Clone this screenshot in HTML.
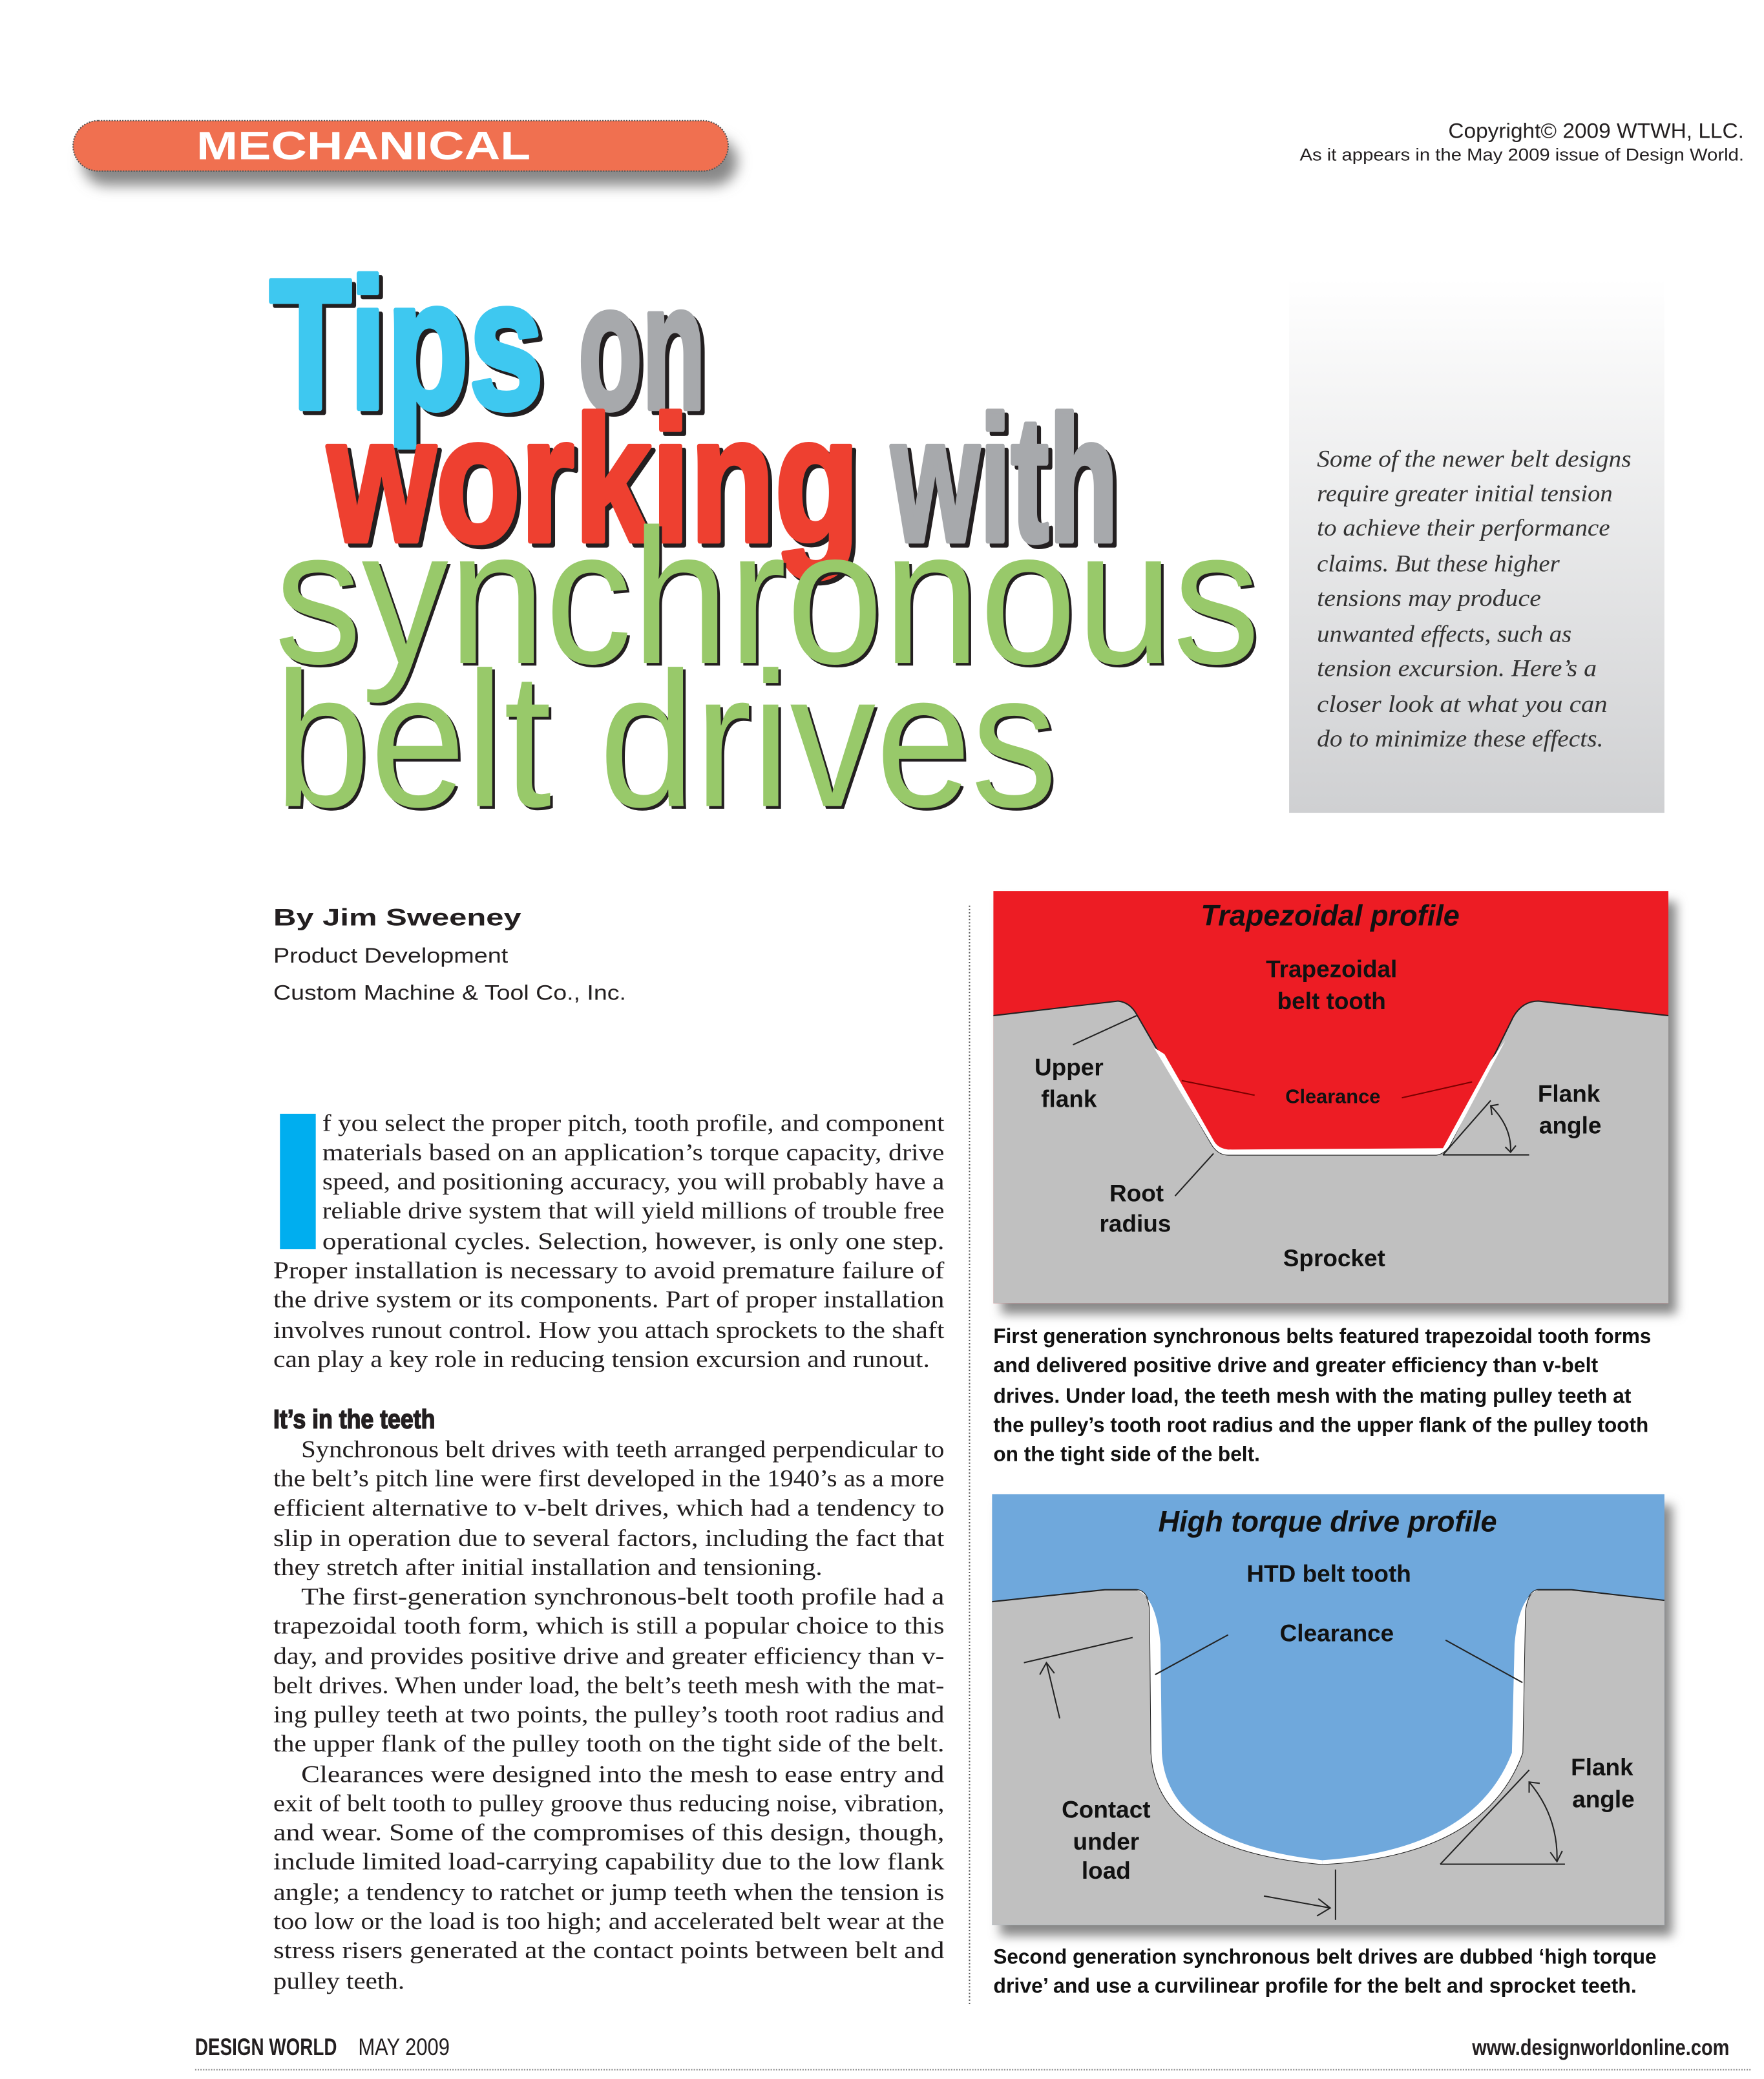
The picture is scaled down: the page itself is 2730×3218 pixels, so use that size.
<!DOCTYPE html>
<html><head><meta charset="utf-8"><style>
html,body{margin:0;padding:0;background:#fff;}
svg{display:block;}
.b{font-family:"Liberation Serif",serif;font-size:18px;fill:#231f20;}
.l{font-family:"Liberation Sans",sans-serif;font-weight:bold;font-size:18px;fill:#111;}
.c{font-family:"Liberation Sans",sans-serif;font-weight:bold;font-size:16px;fill:#111;}
.it{font-family:"Liberation Serif",serif;font-style:italic;font-size:18px;fill:#333;}
</style></head><body>
<svg width="2730" height="3218" viewBox="0 0 1330 1568" xmlns="http://www.w3.org/2000/svg">
<defs>
<linearGradient id="gb" x1="0" y1="0" x2="0" y2="1"><stop offset="0" stop-color="#ffffff"/><stop offset="1" stop-color="#cfd0d2"/></linearGradient>
<filter id="sh" x="-10%" y="-30%" width="120%" height="200%"><feGaussianBlur stdDeviation="5"/></filter>
<filter id="sh2" x="-5%" y="-5%" width="115%" height="115%"><feGaussianBlur stdDeviation="4"/></filter>
</defs>
<rect width="1330" height="1568" fill="#fff"/>

<!-- pill -->
<rect x="62" y="104" width="494" height="36" rx="18" fill="#888" filter="url(#sh)"/>
<rect x="55" y="91" width="494" height="38" rx="19" fill="#f07050" stroke="#555" stroke-width="1" stroke-dasharray="1 1"/>
<text x="148" y="120" font-family="Liberation Sans,sans-serif" font-weight="bold" font-size="30" fill="#fff" textLength="252" lengthAdjust="spacingAndGlyphs">MECHANICAL</text>

<text x="1315" y="104" text-anchor="end" font-family="Liberation Sans,sans-serif" font-size="16" fill="#231f20" textLength="223" lengthAdjust="spacingAndGlyphs">Copyright© 2009 WTWH, LLC.</text>
<text x="1315" y="121" text-anchor="end" font-family="Liberation Sans,sans-serif" font-size="13" fill="#231f20" textLength="335" lengthAdjust="spacingAndGlyphs">As it appears in the May 2009 issue of Design World.</text>

<!-- grey box -->
<rect x="972" y="210" width="283" height="403" fill="url(#gb)"/>
<g class="it">
<text x="993" y="352" textLength="237" lengthAdjust="spacingAndGlyphs">Some of the newer belt designs</text>
<text x="993" y="378" textLength="223" lengthAdjust="spacingAndGlyphs">require greater initial tension</text>
<text x="993" y="404" textLength="221" lengthAdjust="spacingAndGlyphs">to achieve their performance</text>
<text x="993" y="431" textLength="183" lengthAdjust="spacingAndGlyphs">claims. But these higher</text>
<text x="993" y="457" textLength="169" lengthAdjust="spacingAndGlyphs">tensions may produce</text>
<text x="993" y="484" textLength="192" lengthAdjust="spacingAndGlyphs">unwanted effects, such as</text>
<text x="993" y="510" textLength="211" lengthAdjust="spacingAndGlyphs">tension excursion.  Here’s a</text>
<text x="993" y="537" textLength="219" lengthAdjust="spacingAndGlyphs">closer look at what you can</text>
<text x="993" y="563" textLength="216" lengthAdjust="spacingAndGlyphs">do to minimize these effects.</text>
</g>

<!-- title -->
<g font-family="Liberation Sans,sans-serif" font-weight="bold" stroke-width="4" stroke-linejoin="round">
<text x="206" y="311" font-size="140" fill="#231f20" stroke="#231f20" textLength="207" lengthAdjust="spacingAndGlyphs">Tips</text>
<text x="203" y="308" font-size="140" fill="#3ec8f0" stroke="#3ec8f0" textLength="207" lengthAdjust="spacingAndGlyphs">Tips</text>
<text x="439" y="311" font-size="135" fill="#231f20" stroke="#231f20" textLength="96" lengthAdjust="spacingAndGlyphs">on</text>
<text x="436" y="308" font-size="135" fill="#a7a9ac" stroke="#a7a9ac" textLength="96" lengthAdjust="spacingAndGlyphs">on</text>
<text x="250" y="411" font-size="135" fill="#231f20" stroke="#231f20" textLength="401" lengthAdjust="spacingAndGlyphs">working</text>
<text x="247" y="408" font-size="135" fill="#ee4030" stroke="#ee4030" textLength="401" lengthAdjust="spacingAndGlyphs">working</text>
<text x="675" y="411" font-size="135" fill="#231f20" stroke="#231f20" textLength="171" lengthAdjust="spacingAndGlyphs">with</text>
<text x="672" y="408" font-size="135" fill="#a7a9ac" stroke="#a7a9ac" textLength="171" lengthAdjust="spacingAndGlyphs">with</text>
</g>
<g font-family="Liberation Sans,sans-serif" font-size="145">
<text x="209" y="502" fill="#231f20" textLength="743" lengthAdjust="spacingAndGlyphs">synchronous</text>
<text x="207" y="500" fill="#98c96a" textLength="743" lengthAdjust="spacingAndGlyphs">synchronous</text>
<text x="209" y="610" fill="#231f20" textLength="590" lengthAdjust="spacingAndGlyphs">belt drives</text>
<text x="207" y="608" fill="#98c96a" textLength="590" lengthAdjust="spacingAndGlyphs">belt drives</text>
</g>

<!-- byline -->
<text x="206" y="698" font-family="Liberation Sans,sans-serif" font-weight="bold" font-size="18" fill="#231f20" textLength="187" lengthAdjust="spacingAndGlyphs">By Jim Sweeney</text>
<text x="206" y="726" font-family="Liberation Sans,sans-serif" font-size="16" fill="#231f20" textLength="177" lengthAdjust="spacingAndGlyphs">Product Development</text>
<text x="206" y="754" font-family="Liberation Sans,sans-serif" font-size="16" fill="#231f20" textLength="266" lengthAdjust="spacingAndGlyphs">Custom Machine &amp; Tool Co., Inc.</text>

<line x1="731" y1="683" x2="731" y2="1512" stroke="#555" stroke-width="1" stroke-dasharray="1 1.5"/>

<!-- body -->
<rect x="211" y="840" width="27" height="102" fill="#00aeef"/>
<g class="b">
<text x="243" y="853" textLength="469" lengthAdjust="spacingAndGlyphs">f you select the proper pitch, tooth profile, and component</text>
<text x="243" y="875" textLength="469" lengthAdjust="spacingAndGlyphs">materials based on an application’s torque capacity, drive</text>
<text x="243" y="897" textLength="469" lengthAdjust="spacingAndGlyphs">speed, and positioning accuracy, you will probably have a</text>
<text x="243" y="919" textLength="469" lengthAdjust="spacingAndGlyphs">reliable drive system that will yield millions of trouble free</text>
<text x="243" y="942" textLength="469" lengthAdjust="spacingAndGlyphs">operational cycles.  Selection, however, is only one step.</text>
<text x="206" y="964" textLength="506" lengthAdjust="spacingAndGlyphs">Proper installation is necessary to avoid premature failure of</text>
<text x="206" y="986" textLength="506" lengthAdjust="spacingAndGlyphs">the drive system or its components. Part of proper installation</text>
<text x="206" y="1009" textLength="506" lengthAdjust="spacingAndGlyphs">involves runout control. How you attach sprockets to the shaft</text>
<text x="206" y="1031" textLength="495" lengthAdjust="spacingAndGlyphs">can play a key role in reducing tension excursion and runout.</text>

<text x="227" y="1099" textLength="485" lengthAdjust="spacingAndGlyphs">Synchronous belt drives with teeth arranged perpendicular to</text>
<text x="206" y="1121" textLength="506" lengthAdjust="spacingAndGlyphs">the belt’s pitch line were first developed in the 1940’s as a more</text>
<text x="206" y="1143" textLength="506" lengthAdjust="spacingAndGlyphs">efficient alternative to v-belt drives, which had a tendency to</text>
<text x="206" y="1166" textLength="506" lengthAdjust="spacingAndGlyphs">slip in operation due to several factors, including the fact that</text>
<text x="206" y="1188" textLength="414" lengthAdjust="spacingAndGlyphs">they stretch after initial installation and tensioning.</text>
<text x="227" y="1210" textLength="485" lengthAdjust="spacingAndGlyphs">The first-generation synchronous-belt tooth profile had a</text>
<text x="206" y="1232" textLength="506" lengthAdjust="spacingAndGlyphs">trapezoidal tooth form, which is still a popular choice to this</text>
<text x="206" y="1255" textLength="506" lengthAdjust="spacingAndGlyphs">day, and provides positive drive and greater efficiency than v-</text>
<text x="206" y="1277" textLength="506" lengthAdjust="spacingAndGlyphs">belt drives. When under load, the belt’s teeth mesh with the mat-</text>
<text x="206" y="1299" textLength="506" lengthAdjust="spacingAndGlyphs">ing pulley teeth at two points, the pulley’s tooth root radius and</text>
<text x="206" y="1321" textLength="506" lengthAdjust="spacingAndGlyphs">the upper flank of the pulley tooth on the tight side of the belt.</text>
<text x="227" y="1344" textLength="485" lengthAdjust="spacingAndGlyphs">Clearances were designed into the mesh to ease entry and</text>
<text x="206" y="1366" textLength="506" lengthAdjust="spacingAndGlyphs">exit of belt tooth to pulley groove thus reducing noise, vibration,</text>
<text x="206" y="1388" textLength="506" lengthAdjust="spacingAndGlyphs">and wear.  Some of the compromises of this design, though,</text>
<text x="206" y="1410" textLength="506" lengthAdjust="spacingAndGlyphs">include limited load-carrying capability due to the low flank</text>
<text x="206" y="1433" textLength="506" lengthAdjust="spacingAndGlyphs">angle; a tendency to ratchet or jump teeth when the tension is</text>
<text x="206" y="1455" textLength="506" lengthAdjust="spacingAndGlyphs">too low or the load is too high; and accelerated belt wear at the</text>
<text x="206" y="1477" textLength="506" lengthAdjust="spacingAndGlyphs">stress risers generated at the contact points between belt and</text>
<text x="206" y="1500" textLength="99" lengthAdjust="spacingAndGlyphs">pulley teeth.</text>
</g>
<text x="206" y="1077" font-family="Liberation Sans,sans-serif" font-weight="bold" font-size="20" fill="#231f20" stroke="#231f20" stroke-width="0.8" textLength="122" lengthAdjust="spacingAndGlyphs">It’s in the teeth</text>

<!-- Trapezoidal panel -->
<rect x="755" y="680" width="509" height="311" fill="#888" filter="url(#sh2)"/>
<rect x="749" y="672" width="509" height="311" fill="#ed1c24"/>
<path d="M749,766 L843,755 Q852,756 857,765 L913,862 Q918,871 926,871 L1083,871 Q1090,870 1094,862 L1141,767 Q1148,755 1160,755 L1258,766 L1258,983 L749,983 Z" fill="#c0c0c0"/>
<path d="M749,766 L843,755 Q852,756 857,765 L913,862 Q918,871 926,871 L1083,871 Q1090,870 1094,862 L1141,767 Q1148,755 1160,755 L1258,766" fill="none" stroke="#222" stroke-width="1"/>
<path d="M870,790 L913,862 Q918,871 926,871 L1083,871 Q1090,870 1094,862 L1135,785 L1124,800 L1088,866 L926,867 Q918,866 915,860 L878,795 Z" fill="#fff"/>
<g stroke="#222" stroke-width="1" fill="none">
<line x1="809" y1="788" x2="857" y2="766"/>
<line x1="886" y1="902" x2="915" y2="870"/>
<line x1="1088" y1="871" x2="1153" y2="871"/>
<line x1="1088" y1="871" x2="1124" y2="830"/>
<path d="M1124,834 Q1140,850 1139,869"/>
<path d="M1130,833 L1124,834 L1125,841"/>
<path d="M1135,865 L1139,869 L1143,864"/>
</g>
<line x1="891" y1="815" x2="946" y2="826" stroke="#7a0000" stroke-width="1"/>
<line x1="1057" y1="828" x2="1110" y2="816" stroke="#7a0000" stroke-width="1"/>
<g class="l" text-anchor="middle">
<text x="1003" y="698" font-style="italic" font-size="22">Trapezoidal profile</text>
<text x="1004" y="737">Trapezoidal</text>
<text x="1004" y="761">belt tooth</text>
<text x="806" y="811">Upper</text>
<text x="806" y="835">flank</text>
<text x="1005" y="832" font-size="15">Clearance</text>
<text x="1183" y="831">Flank</text>
<text x="1184" y="855">angle</text>
<text x="857" y="906">Root</text>
<text x="856" y="929">radius</text>
<text x="1006" y="955">Sprocket</text>
</g>
<g class="c">
<text x="749" y="1013" textLength="496" lengthAdjust="spacingAndGlyphs">First generation synchronous belts featured trapezoidal tooth forms</text>
<text x="749" y="1035" textLength="456" lengthAdjust="spacingAndGlyphs">and delivered positive drive and greater efficiency than v-belt</text>
<text x="749" y="1058" textLength="481" lengthAdjust="spacingAndGlyphs">drives. Under load, the teeth mesh with the mating pulley teeth at</text>
<text x="749" y="1080" textLength="494" lengthAdjust="spacingAndGlyphs">the pulley’s tooth root radius and the upper flank of the pulley tooth</text>
<text x="749" y="1102" textLength="201" lengthAdjust="spacingAndGlyphs">on the tight side of the belt.</text>
</g>

<!-- HTD panel -->
<rect x="754" y="1135" width="507" height="325" fill="#888" filter="url(#sh2)"/>
<rect x="748" y="1127" width="507" height="325" fill="#6fa8dc"/>
<path d="M748,1208 L833,1199 L857,1199 Q866,1200 867,1215 L868,1322 Q872,1395 997,1406 Q1120,1400 1148,1322 L1150,1215 Q1152,1200 1160,1199 L1185,1199 L1255,1207 L1255,1452 L748,1452 Z" fill="#c0c0c0"/>
<path d="M748,1208 L833,1199 L857,1199 Q866,1200 867,1215 L868,1322 Q872,1395 997,1406 Q1120,1400 1148,1322 L1150,1215 Q1152,1200 1160,1199 L1185,1199 L1255,1207" fill="none" stroke="#222" stroke-width="1"/>
<path d="M857,1199 Q866,1200 867,1215 L868,1322 Q872,1395 997,1406 L997,1403 Q880,1390 876,1322 L875,1240 Q872,1205 857,1199 Z" fill="#fff"/>
<path d="M1160,1199 Q1152,1200 1150,1215 L1148,1322 Q1120,1400 997,1406 L997,1403 Q1112,1395 1140,1322 L1142,1240 Q1145,1205 1160,1199 Z" fill="#fff"/>
<g stroke="#222" stroke-width="1" fill="none">
<line x1="926" y1="1233" x2="871" y2="1263"/>
<line x1="1090" y1="1237" x2="1148" y2="1269"/>
<line x1="772" y1="1254" x2="854" y2="1235"/>
<line x1="799" y1="1296" x2="789" y2="1254"/>
<path d="M784,1263 L789,1254 L795,1262"/>
<line x1="1007" y1="1410" x2="1007" y2="1448"/>
<line x1="953" y1="1430" x2="1003" y2="1439"/>
<path d="M994,1432 L1003,1439 L993,1445"/>
<line x1="1086" y1="1406" x2="1180" y2="1406"/>
<line x1="1086" y1="1406" x2="1153" y2="1335"/>
<path d="M1153,1344 Q1175,1370 1174,1404"/>
<path d="M1153,1352 L1153,1344 L1161,1345"/>
<path d="M1169,1397 L1174,1404 L1178,1396"/>
</g>
<g class="l" text-anchor="middle">
<text x="1001" y="1155" font-style="italic" font-size="22">High torque drive profile</text>
<text x="1002" y="1193">HTD belt tooth</text>
<text x="1008" y="1238">Clearance</text>
<text x="1208" y="1339">Flank</text>
<text x="1209" y="1363">angle</text>
<text x="834" y="1371">Contact</text>
<text x="834" y="1395">under</text>
<text x="834" y="1417">load</text>
</g>
<g class="c">
<text x="749" y="1481" textLength="500" lengthAdjust="spacingAndGlyphs">Second generation synchronous belt drives are dubbed ‘high torque</text>
<text x="749" y="1503" textLength="485" lengthAdjust="spacingAndGlyphs">drive’ and use a curvilinear profile for the belt and sprocket teeth.</text>
</g>

<!-- footer -->
<text x="147" y="1550" font-family="Liberation Sans,sans-serif" font-weight="bold" font-size="18" fill="#231f20" textLength="107" lengthAdjust="spacingAndGlyphs">DESIGN WORLD</text>
<text x="270" y="1550" font-family="Liberation Sans,sans-serif" font-size="18" fill="#231f20" textLength="69" lengthAdjust="spacingAndGlyphs">MAY 2009</text>
<text x="1110" y="1550" font-family="Liberation Sans,sans-serif" font-weight="bold" font-size="17" fill="#231f20" textLength="194" lengthAdjust="spacingAndGlyphs">www.designworldonline.com</text>
<line x1="147" y1="1561" x2="1320" y2="1561" stroke="#888" stroke-width="1" stroke-dasharray="1 1"/>
</svg>
</body></html>
